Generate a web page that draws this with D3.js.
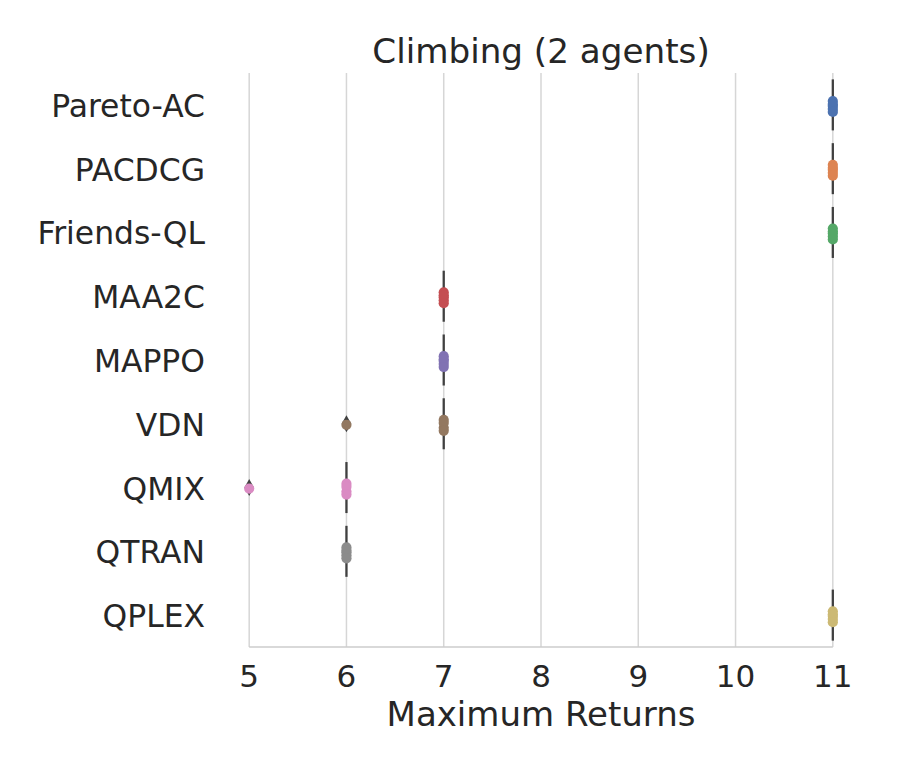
<!DOCTYPE html>
<html>
<head>
<meta charset="utf-8">
<script src="https://cdn.jsdelivr.net/npm/d3@7"></script>
<style>
  html, body { margin: 0; padding: 0; background: #fff; }
  svg { display: block; font-family: "DejaVu Sans", sans-serif; }
</style>
</head>
<body>
<svg id="chart" width="900" height="771"></svg>
<script>
// algorithms, top to bottom
const algorithms = ["Pareto-AC", "PACDCG", "Friends-QL", "MAA2C", "MAPPO", "VDN", "QMIX", "QTRAN", "QPLEX"]

// maximum returns per seed
const returnsParetoAC = [11, 11, 11, 11, 11]
const returnsPACDCG = [11, 11, 11, 11, 11]
const returnsFriendsQL = [11, 11, 11, 11, 11]
const returnsMAA2C = [7, 7, 7, 7, 7]
const returnsMAPPO = [7, 7, 7, 7, 7]
const returnsVDN = [6, 7, 7, 7, 7]
const returnsQMIX = [5, 6, 6, 6, 6]
const returnsQTRAN = [6, 6, 6, 6, 6]
const returnsQPLEX = [11, 11, 11, 11, 11]

const xTicks = [5, 6, 7, 8, 9, 10, 11]
const palette = ["#4c72b0", "#dd8452", "#55a868", "#c44e52", "#8172b3", "#937860", "#da8bc3", "#8c8c8c", "#ccb974"]

const series = [
  returnsParetoAC, returnsPACDCG, returnsFriendsQL, returnsMAA2C, returnsMAPPO,
  returnsVDN, returnsQMIX, returnsQTRAN, returnsQPLEX,
].map((values, i) => ({name: algorithms[i], values, color: palette[i]}))

const svg = d3.select("#chart")
const plotLeft = 220, plotRight = 862, plotTop = 73, plotBottom = 647
const ink = "#262626"
const boxInk = "#404040"

const x = d3.scaleLinear().domain([4.7, 11.3]).range([plotLeft, plotRight])
const y = d3.scaleBand().domain(algorithms).range([plotTop, plotBottom]).padding(0)
const bw = y.bandwidth()
const cy = (name) => y(name) + bw / 2

// grid
svg.append("g")
  .selectAll("line")
  .data(xTicks)
  .join("line")
  .attr("x1", (d) => x(d)).attr("x2", (d) => x(d))
  .attr("y1", plotTop).attr("y2", plotBottom)
  .attr("stroke", "#d6d6d6")
  .attr("stroke-width", 1.5)

// bottom spine trimmed to ticks
svg.append("line")
  .attr("x1", x(xTicks[0])).attr("x2", x(xTicks[xTicks.length - 1]))
  .attr("y1", plotBottom).attr("y2", plotBottom)
  .attr("stroke", "#cccccc")
  .attr("stroke-width", 1.5)

// x tick labels
svg.append("g")
  .selectAll("text")
  .data(xTicks)
  .join("text")
  .attr("x", (d) => x(d))
  .attr("y", 687)
  .attr("text-anchor", "middle")
  .attr("font-size", 31)
  .attr("fill", ink)
  .text((d) => d)

// y tick labels
svg.append("g")
  .selectAll("text")
  .data(algorithms)
  .join("text")
  .attr("x", 205)
  .attr("y", (d) => cy(d) + 12)
  .attr("text-anchor", "end")
  .attr("font-size", 31.4)
  .attr("fill", ink)
  .text((d) => d)

// boxes (degenerate here) and fliers
const boxG = svg.append("g")
for (const s of series) {
  const v = s.values.slice().sort(d3.ascending)
  const q1 = d3.quantile(v, 0.25), q3 = d3.quantile(v, 0.75), med = d3.quantile(v, 0.5)
  const iqr = q3 - q1
  const inside = v.filter((d) => d >= q1 - 1.5 * iqr && d <= q3 + 1.5 * iqr)
  const lo = d3.min(inside), hi = d3.max(inside)
  const c = cy(s.name)
  const h = bw * 0.4

  // whiskers
  boxG.append("line")
    .attr("x1", x(lo)).attr("x2", x(q1)).attr("y1", c).attr("y2", c)
    .attr("stroke", boxInk).attr("stroke-width", 2.3)
  boxG.append("line")
    .attr("x1", x(q3)).attr("x2", x(hi)).attr("y1", c).attr("y2", c)
    .attr("stroke", boxInk).attr("stroke-width", 2.3)
  // box
  boxG.append("rect")
    .attr("x", x(q1)).attr("y", c - h)
    .attr("width", Math.max(0, x(q3) - x(q1))).attr("height", 2 * h)
    .attr("fill", s.color).attr("stroke", boxInk).attr("stroke-width", 2.3)
  // median
  boxG.append("line")
    .attr("x1", x(med)).attr("x2", x(med)).attr("y1", c - h).attr("y2", c + h)
    .attr("stroke", boxInk).attr("stroke-width", 2.3)

  // fliers as thin diamonds
  const fliers = v.filter((d) => d < lo || d > hi)
  boxG.selectAll(null)
    .data(fliers)
    .join("path")
    .attr("d", (d) => {
      const px = x(d)
      return `M${px},${c - 8.5}L${px + 4.8},${c}L${px},${c + 8.5}L${px - 4.8},${c}Z`
    })
    .attr("fill", boxInk)
}

// strip points with small deterministic jitter
const ptsG = svg.append("g")
for (const s of series) {
  const c = cy(s.name)
  ptsG.selectAll(null)
    .data(s.values)
    .join("circle")
    .attr("cx", (d) => x(d))
    .attr("cy", (d, i) => c + 1 + (((i * 0.618 + 0.5) % 1) - 0.5) * 0.2 * bw)
    .attr("r", 5.1)
    .attr("fill", s.color)
}

// title and axis label
svg.append("text")
  .attr("x", (plotLeft + plotRight) / 2)
  .attr("y", 63)
  .attr("text-anchor", "middle")
  .attr("font-size", 34.2)
  .attr("fill", ink)
  .text("Climbing (2 agents)")

svg.append("text")
  .attr("x", (plotLeft + plotRight) / 2)
  .attr("y", 726)
  .attr("text-anchor", "middle")
  .attr("font-size", 34)
  .attr("fill", ink)
  .text("Maximum Returns")
</script>
</body>
</html>
